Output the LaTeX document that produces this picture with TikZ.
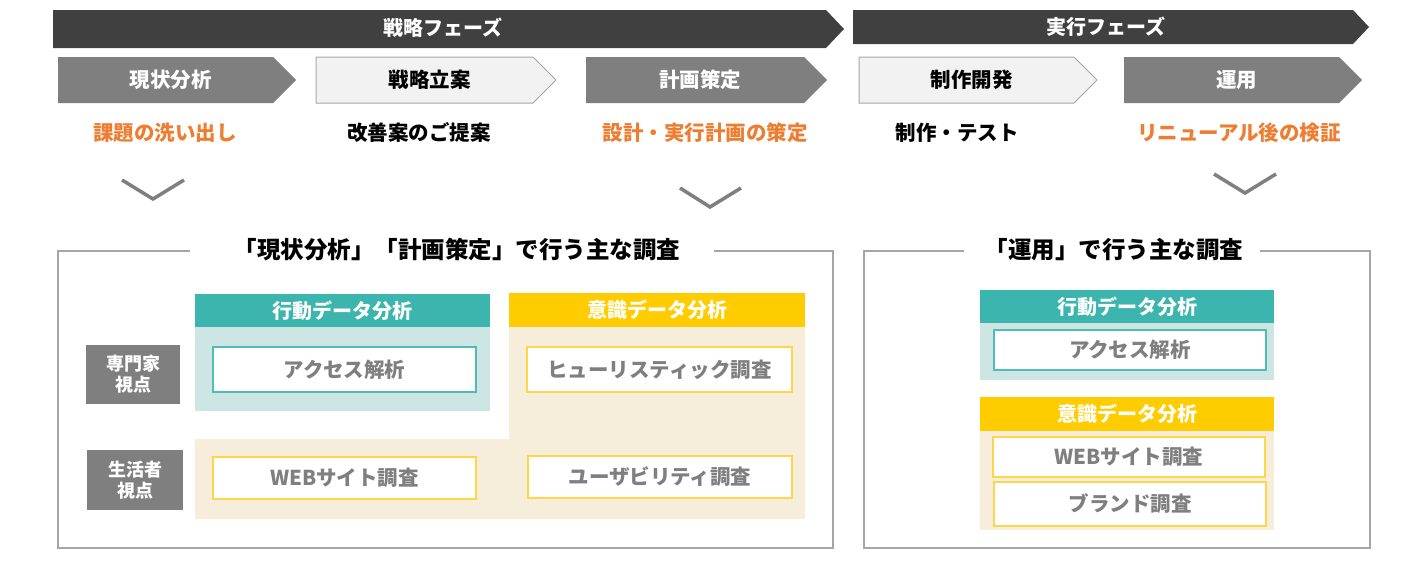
\documentclass[tikz,border=0pt]{standalone}
\usepackage{fontspec}
\setmainfont{Noto Sans CJK JP}
\usepackage{tikz}
\usetikzlibrary{positioning, arrows.meta}
\definecolor{phasecolor}{RGB}{64,64,64}
\definecolor{stepgray}{RGB}{127,127,127}
\definecolor{steppale}{RGB}{242,242,242}
\definecolor{lineGray}{RGB}{166,166,166}
\definecolor{accent}{RGB}{237,125,49}
\definecolor{tealhead}{RGB}{60,181,175}
\definecolor{tealpale}{RGB}{205,230,228}
\definecolor{tealedge}{RGB}{77,189,183}
\definecolor{yellowhead}{RGB}{255,204,0}
\definecolor{creampale}{RGB}{246,238,219}
\definecolor{yellowedge}{RGB}{255,213,74}
\definecolor{itemtext}{RGB}{127,127,127}

\begin{document}
\begin{tikzpicture}[
    x=1pt, y=-1pt,
    phase/.style={fill=phasecolor, draw=none},
    phasetext/.style={text=white, font=\fontsize{20}{23}\selectfont\bfseries, inner sep=0pt},
    stepdark/.style={fill=stepgray, draw=none},
    steplight/.style={fill=steppale, draw=lineGray, line width=1pt},
    steplabel/.style={font=\fontsize{20.5}{23}\selectfont\bfseries, inner sep=0pt},
    note/.style={font=\fontsize{20.5}{23}\selectfont\bfseries, inner sep=0pt},
    downmark/.style={draw=stepgray, line width=3.5pt},
    frame/.style={draw=lineGray, line width=2.5pt},
    paneltitle/.style={font=\fontsize{23.5}{27}\selectfont\bfseries, inner sep=0pt},
    head/.style={text=white, font=\fontsize{20}{23}\selectfont\bfseries, inner sep=0pt},
    item/.style={draw, fill=white, line width=1.3pt, text=itemtext, font=\fontsize{20.5}{23}\selectfont\bfseries, inner sep=0pt},
    viewpoint/.style={fill=stepgray, text=white, align=center, font=\fontsize{18}{21}\selectfont\bfseries, inner sep=0pt}
]
    \useasboundingbox (0,0) rectangle (1401,562);

    % Phase bars
    \fill[phase] (53,10) -- (826,10) -- (844,29) -- (826,48) -- (53,48) -- cycle;
    \node[phasetext] (strategy) at (443,28) {戦略フェーズ};
    \fill[phase] (853,10) -- (1353,10) -- (1369,27) -- (1353,44) -- (853,44) -- cycle;
    \node[phasetext] (execution) at (1106,27) {実行フェーズ};

    % Steps
    \foreach \xa/\xb/\look/\ink/\name/\txt in {
        58/273/stepdark/white/analysis/現状分析,
        316/533/steplight/black/planning/戦略立案,
        586/804/stepdark/white/design/計画策定,
        859/1074/steplight/black/build/制作開発,
        1124/1339/stepdark/white/operate/運用}
    {
        \draw[\look] (\xa,57) -- (\xb,57) -- (\xb+23,80) -- (\xb,103) -- (\xa,103) -- cycle;
        \node[steplabel, text=\ink] (\name) at ({(\xa+\xb)/2+5},80) {\txt};
    }

    % Step notes
    \node[note, text=accent] (analysisnote) at (165,133) {課題の洗い出し};
    \node[note] (planningnote) at (419,133) {改善案のご提案};
    \node[note, text=accent] (designnote) at (705,133) {設計・実行計画の策定};
    \node[note] (buildnote) at (957,133) {制作・テスト};
    \node[note, text=accent] (operatenote) at (1239,133) {リニューアル後の検証};

    % Down marks
    \draw[downmark] (122,180) -- (153,199) -- (184,180);
    \draw[downmark] (680,188) -- (710,207) -- (741,188);
    \draw[downmark] (1214,174) -- (1245,193) -- (1276,174);

    % Left panel
    \node[paneltitle] (lefttitle) at (457,250) {「現状分析」「計画策定」で行う主な調査};
    \draw[frame] (190,251) -| (58,548) -| (833,251) -- (714,251);

    \fill[tealpale] (195,327) rectangle (490,411);
    \node[head, fill=tealhead, minimum width=295pt, minimum height=33pt] (lefthead1) at (342.5,310.5) {行動データ分析};
    \fill[creampale] (509,327) -- (805,327) -- (805,519) -- (195,519) -- (195,439) -- (509,439) -- cycle;
    \node[head, fill=yellowhead, minimum width=296pt, minimum height=34pt] (lefthead2) at (657,310) {意識データ分析};

    \node[item, draw=tealedge, minimum width=263pt, minimum height=45pt] (access1) at (344.5,369.5) {アクセス解析};
    \node[item, draw=yellowedge, minimum width=263pt, minimum height=42pt] (web1) at (344.5,478) {WEBサイト調査};
    \node[item, draw=yellowedge, minimum width=265pt, minimum height=45pt] (heuristic) at (659.5,369.5) {ヒューリスティック調査};
    \node[item, draw=yellowedge, minimum width=264pt, minimum height=42pt] (usability) at (660,477) {ユーザビリティ調査};

    \node[viewpoint, minimum width=94pt, minimum height=59pt] (expert) at (133,374.5) {専門家\\視点};
    \node[viewpoint, minimum width=96pt, minimum height=60pt] (user) at (135,480) {生活者\\視点};

    % Right panel
    \node[paneltitle] (righttitle) at (1114,250) {「運用」で行う主な調査};
    \draw[frame] (964,251) -| (864,548) -| (1370,251) -- (1260,251);

    \fill[tealpale] (980,323) rectangle (1274,380);
    \node[head, fill=tealhead, minimum width=294pt, minimum height=33pt] (righthead1) at (1127,306.5) {行動データ分析};
    \node[item, draw=tealedge, minimum width=272pt, minimum height=40pt] (access2) at (1130,350) {アクセス解析};

    \fill[creampale] (980,431) rectangle (1274,530);
    \node[head, fill=yellowhead, minimum width=294pt, minimum height=34pt] (righthead2) at (1127,414) {意識データ分析};
    \node[item, draw=yellowedge, minimum width=272pt, minimum height=40pt] (web2) at (1129,457) {WEBサイト調査};
    \node[item, draw=yellowedge, minimum width=272pt, minimum height=44pt] (brand) at (1130,504) {ブランド調査};
\end{tikzpicture}
\end{document}
